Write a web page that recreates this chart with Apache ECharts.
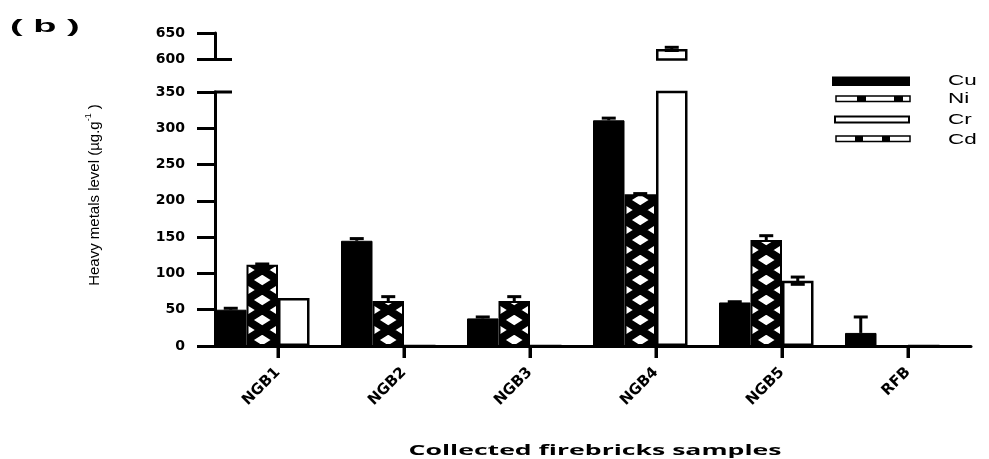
<!DOCTYPE html>
<html>
<head>
<meta charset="utf-8">
<script src="https://cdn.jsdelivr.net/npm/echarts@6/dist/echarts.min.js"></script>
<style>
  html, body { margin: 0; padding: 0; background: #fff; }
  #chart { width: 989px; height: 459px; }
</style>
</head>
<body>
<div id="chart"></div>
<script>
// samples and metals
const categories = ['NGB1', 'NGB2', 'NGB3', 'NGB4', 'NGB5', 'RFB'];
const metals = ['Cu', 'Ni', 'Cr', 'Cd'];

// mean levels (µg/g) and error bars
const cuValues = [50, 145, 38, 311, 60, 18];
const cuErrors = [2, 3, 2, 3, 1, 22];
const niValues = [112, 62, 62, 209, 146, 0];
const niErrors = [1, 6, 6, 1, 6, 0];
const crValues = [66, 0, 0, 620, 90, 0];
const crErrors = [0, 0, 0, 3, 5, 0];
const cdValues = [0, 0, 0, 0, 0, 0];
const cdErrors = [0, 0, 0, 0, 0, 0];

// broken y axis: lower and upper segments [min, max, step]
const lowerAxis = [0, 350, 50];
const upperAxis = [600, 650, 50];

const gridLeft = 215;
const gridWidth = 756;
const catWidth = gridWidth / categories.length;
const slotWidth = catWidth / metals.length;

// cross-hatch fill for Ni, one tile per category so the X cells line up with the bar edges
function niPattern() {
  const h = 20;
  const c = document.createElement('canvas');
  c.width = Math.round(catWidth);
  c.height = h;
  const ctx = c.getContext('2d');
  const x0 = slotWidth, x1 = slotWidth * 2;
  ctx.save();
  ctx.beginPath();
  ctx.rect(x0, 0, slotWidth, h);
  ctx.clip();
  ctx.fillStyle = '#fff';
  ctx.fillRect(x0, 0, slotWidth, h);
  ctx.strokeStyle = '#000';
  ctx.lineWidth = 8;
  ctx.beginPath();
  for (let k = -1; k <= 1; k++) {
    ctx.moveTo(x0, k * h); ctx.lineTo(x1, (k + 1) * h);
    ctx.moveTo(x1, k * h); ctx.lineTo(x0, (k + 1) * h);
  }
  ctx.stroke();
  ctx.restore();
  return { image: c, repeat: 'repeat', x: gridLeft, y: 0 };
}

const styles = [
  { color: '#000', borderColor: '#000', borderWidth: 1 },
  { color: niPattern(), borderColor: '#000', borderWidth: 2 },
  { color: '#fff', borderColor: '#000', borderWidth: 2.5 },
  { color: '#fff', borderColor: '#000', borderWidth: 1.5 }
];
// filled bars only show the upper half of the error bar
const bothWays = [false, false, true, true];
const allValues = [cuValues, niValues, crValues, cdValues];
const allErrors = [cuErrors, niErrors, crErrors, cdErrors];

function barSeries(slot, gridIndex, range) {
  return {
    name: metals[slot],
    type: 'bar',
    xAxisIndex: gridIndex,
    yAxisIndex: gridIndex,
    barGap: '0%',
    barCategoryGap: '0%',
    itemStyle: styles[slot],
    data: allValues[slot].map(v => (gridIndex === 1 && v < range[0]) ? '-' : v)
  };
}

function errorSeries(slot, gridIndex, range) {
  const data = [];
  allValues[slot].forEach((v, i) => {
    const e = allErrors[slot][i];
    if (e > 0 && v >= range[0] && v <= range[1]) data.push([i, v, e]);
  });
  return {
    type: 'custom',
    xAxisIndex: gridIndex,
    yAxisIndex: gridIndex,
    z: 5,
    clip: false,
    encode: { x: 0, y: 1 },
    data: data,
    renderItem: function (params, api) {
      const cat = api.value(0), v = api.value(1), e = api.value(2);
      const bw = api.size([1, 0])[0] / metals.length;
      const x = api.coord([cat, v])[0] + (slot - 1.5) * bw;
      const top = api.coord([cat, v + e])[1];
      const bot = api.coord([cat, bothWays[slot] ? v - e : v])[1];
      const half = 7;
      const st = { stroke: '#000', lineWidth: 3 };
      const parts = [
        { type: 'line', shape: { x1: x, y1: top, x2: x, y2: bot }, style: st },
        { type: 'line', shape: { x1: x - half, y1: top, x2: x + half, y2: top }, style: st }
      ];
      if (bothWays[slot]) parts.push({ type: 'line', shape: { x1: x - half, y1: bot, x2: x + half, y2: bot }, style: st });
      return { type: 'group', children: parts };
    }
  };
}

// short stub to the right of the axis where it is broken
function breakMark(gridIndex, value) {
  return {
    type: 'custom',
    xAxisIndex: gridIndex,
    yAxisIndex: gridIndex,
    z: 6,
    clip: false,
    silent: true,
    encode: { x: 0, y: 1 },
    data: [[0, value]],
    renderItem: function (params, api) {
      const y = api.coord([0, api.value(1)])[1];
      const x0 = params.coordSys.x;
      return { type: 'line', shape: { x1: x0 - 1, y1: y, x2: x0 + 17, y2: y }, style: { stroke: '#000', lineWidth: 3 } };
    }
  };
}

// sample ticks under the x axis, one per category centre, on their own layer
const sampleTicks = {
  type: 'custom',
  xAxisIndex: 0,
  yAxisIndex: 0,
  clip: false,
  zlevel: 1,
  z: 100,
  encode: { x: 0, y: 1 },
  data: categories.map((c, i) => [i, 0]),
  renderItem: function (params, api) {
    const p = api.coord([api.value(0), 0]);
    return { type: 'rect', shape: { x: p[0] - 1.5, y: p[1], width: 3, height: 12 }, style: { fill: '#000' } };
  }
};

const axisFont = { color: '#000', fontFamily: 'DejaVu Sans', fontWeight: 'bold', fontSize: 14 };
const blackLine = { lineStyle: { color: '#000', width: 3 } };

function yAxis(gridIndex, range) {
  return {
    type: 'value',
    gridIndex: gridIndex,
    min: range[0],
    max: range[1],
    interval: range[2],
    axisLine: { show: true, ...blackLine },
    axisTick: { show: true, length: 18, ...blackLine },
    axisLabel: { margin: 30, ...axisFont },
    splitLine: { show: false }
  };
}

const series = [];
for (let s = 0; s < metals.length; s++) series.push(barSeries(s, 0, lowerAxis));
for (let s = 0; s < metals.length; s++) series.push(barSeries(s, 1, upperAxis));
for (let s = 0; s < metals.length; s++) {
  series.push(errorSeries(s, 0, lowerAxis));
  series.push(errorSeries(s, 1, upperAxis));
}
series.push(breakMark(0, lowerAxis[1]));
series.push(breakMark(1, upperAxis[0]));
series.push(sampleTicks);

// legend drawn by hand: each key has its own size in the original
const legendText = { fill: '#000', fontFamily: 'Liberation Sans', fontSize: 15, verticalAlign: 'middle' };
const legend = [
  { type: 'rect', shape: { x: 832, y: 76.5, width: 78, height: 9.5 }, style: { fill: '#000' } },
  { type: 'rect', shape: { x: 836, y: 96, width: 74, height: 5.5 }, style: { fill: '#fff', stroke: '#000', lineWidth: 1.5 } },
  { type: 'rect', shape: { x: 857, y: 96, width: 9, height: 5.5 }, style: { fill: '#000' } },
  { type: 'rect', shape: { x: 894, y: 96, width: 9, height: 5.5 }, style: { fill: '#000' } },
  { type: 'rect', shape: { x: 835, y: 116.5, width: 74, height: 6 }, style: { fill: '#fff', stroke: '#000', lineWidth: 2 } },
  { type: 'rect', shape: { x: 836, y: 136, width: 74, height: 5.5 }, style: { fill: '#fff', stroke: '#000', lineWidth: 1.5 } },
  { type: 'rect', shape: { x: 855, y: 136, width: 8, height: 5.5 }, style: { fill: '#000' } },
  { type: 'rect', shape: { x: 882, y: 136, width: 8, height: 5.5 }, style: { fill: '#000' } }
];
[81, 99, 120, 140].forEach((y, i) => {
  legend.push({ type: 'text', x: 948, y: y, scaleX: 1.5, style: { text: metals[i], ...legendText } });
});

const chart = echarts.init(document.getElementById('chart'));
chart.setOption({
  animation: false,
  backgroundColor: '#fff',
  grid: [
    { left: gridLeft, width: gridWidth, top: 92, height: 254 },
    { left: gridLeft, width: gridWidth, top: 33, height: 26.5 }
  ],
  xAxis: [
    {
      type: 'category',
      gridIndex: 0,
      data: categories,
      axisLine: { show: true, ...blackLine },
      axisTick: { show: true, alignWithLabel: true, length: 12, ...blackLine },
      axisLabel: { rotate: 45, margin: 24, ...axisFont, fontSize: 15 }
    },
    { type: 'category', gridIndex: 1, data: categories, show: false }
  ],
  yAxis: [yAxis(0, lowerAxis), yAxis(1, upperAxis)],
  series: series,
  graphic: [
    {
      type: 'text', x: 10, y: 27, scaleX: 2,
      style: { text: '( b )', fill: '#000', fontFamily: 'Liberation Sans', fontWeight: 'bold', fontSize: 19, verticalAlign: 'middle' }
    },
    {
      type: 'text', x: 93, y: 195, rotation: Math.PI / 2,
      style: {
        text: '{a|Heavy metals level (µg.g}{s|-1}{a| )}',
        align: 'center', verticalAlign: 'middle',
        rich: {
          a: { fill: '#000', fontFamily: 'Liberation Sans', fontSize: 15, lineHeight: 18, verticalAlign: 'bottom' },
          s: { fill: '#000', fontFamily: 'Liberation Sans', fontSize: 9, lineHeight: 18, verticalAlign: 'top' }
        }
      }
    },
    {
      type: 'text', x: 595, y: 451, scaleX: 1.9,
      style: { text: 'Collected firebricks samples', fill: '#000', fontFamily: 'Open Sans', fontWeight: 'bold', fontSize: 14, align: 'center', verticalAlign: 'middle' }
    },
    ...legend
  ]
});
</script>
</body>
</html>
